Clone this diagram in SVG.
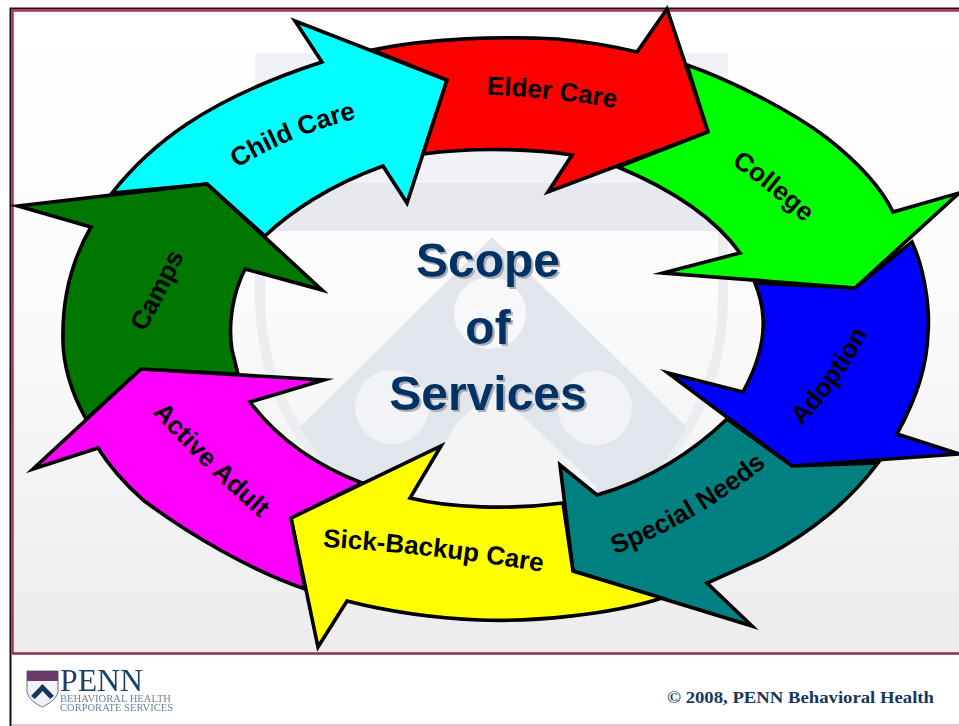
<svg xmlns="http://www.w3.org/2000/svg" width="959" height="726" viewBox="0 0 959 726">
<style>
.a{stroke:#000;stroke-width:3.6;stroke-linejoin:miter;stroke-miterlimit:8}
.l{font:bold 26px "Liberation Sans",Arial,sans-serif;fill:#000;text-anchor:middle}
.t{font:bold 48px "Liberation Sans",Arial,sans-serif;text-anchor:middle;fill:#003366}
.wm{fill:#e2e5eb}
</style>
<defs>
<linearGradient id="bg" x1="0" y1="0" x2="0" y2="1"><stop offset="0" stop-color="#fff"/><stop offset=".45" stop-color="#fbfbfc"/><stop offset="1" stop-color="#ececee"/></linearGradient>
<filter id="sh" x="-10%" y="-10%" width="120%" height="120%"><feDropShadow dx="2" dy="2" stdDeviation="0.6" flood-color="#a9adb6"/></filter>
<filter id="soft" x="-5%" y="-5%" width="110%" height="110%"><feGaussianBlur stdDeviation="0.45"/></filter>
<path id="pChild" d="M220,179 Q289,132 376,114"/>
<path id="pElder" d="M469,94 Q551,96 633,111"/>
<path id="pCollege" d="M715,153 Q770,189 819,236"/>
<path id="pAdopt" d="M791,437 Q841,388 875,320"/>
<path id="pSpecial" d="M596,561 Q697,527 782,452"/>
<path id="pSick" d="M304,546 Q430,552 561,575"/>
<path id="pActive" d="M138,397 Q204,471 276,532"/>
<path id="pCamps" d="M137,345 Q166,298 190,242"/>
</defs>
<rect width="959" height="726" fill="#fff"/>
<rect x="12" y="9" width="947" height="644" fill="url(#bg)"/>
<g id="watermark">
<rect x="255" y="53" width="473" height="131" fill="#f1f2f5"/>
<rect x="255" y="183" width="473" height="48" fill="#e6e8ee"/>
<path d="M260,231 V300 C262,420 340,520 492,572 C645,520 722,420 723,300 V231" fill="none" stroke="#ebedf1" stroke-width="10"/>
<path class="wm" d="M492,237 L687,427 L640,500 C600,530 560,550 492,568 C430,550 385,530 345,495 L300,427 Z"/>
<path d="M492,390 L527,420 L597,487 L560,570 H430 L395,520 L457,423 Z" fill="#f4f4f6"/>
<circle cx="490" cy="313" r="36" fill="#f8f8fa"/>
<circle cx="392" cy="407" r="37" fill="#f2f3f6"/>
<circle cx="595" cy="408" r="37" fill="#f2f3f6"/>
</g>
<g id="frame">
<path d="M959,8.500H10.500V726" fill="none" stroke="#111" stroke-width="2"/>
<path d="M959,10.500H12.500V653" fill="none" stroke="#b03060" stroke-width="2.500"/>
<path d="M12,653.500H959" stroke="#8a2f4e" stroke-width="2.500"/>
<path d="M12,725H959" stroke="#e8a8bc" stroke-width="1.500"/>
</g>
<g id="connectors"></g>
<g id="child-care">
<path class="a" fill="#0ff" d="M112,193 C150,145 205,100 322,62 L295,21 L447,80 L407,203 L383,166 C330,185 290,212 265,236 L207,184 Z"/>
<text class="l"><textPath href="#pChild" startOffset="50%">Child Care</textPath></text>
</g>
<g id="elder-care">
<path class="a" fill="#f00" d="M372,50 C430,38 500,36 557,39 Q600,43 637,52 L667,9 L708,132 L548,192 L572,155 C540,150 480,146 423,154 L447,80 Z"/>
<text class="l"><textPath href="#pElder" startOffset="50%">Elder Care</textPath></text>
</g>
<g id="college">
<path class="a" fill="#0f0" d="M687,65 C730,80 790,110 827,138 C855,160 880,185 893,212 L959,193 L855,288 L663,273 L740,253 C720,225 685,195 618,167 L708,132 Z"/>
<text class="l"><textPath href="#pCollege" startOffset="50%">College</textPath></text>
</g>
<g id="adoption">
<path class="a" fill="#00f" d="M912,242 C925,270 930,310 928,333 C927,365 918,395 897,434 L959,454 L792,466 L668,373 L743,392 C755,370 765,345 763,317 Q762,300 755,283 L855,288 Z"/>
<text class="l"><textPath href="#pAdopt" startOffset="50%">Adoption</textPath></text>
</g>
<g id="special-needs">
<path class="a" fill="#008080" d="M878,463 C850,500 815,530 763,558 L707,583 L752,626 L573,571 L560,465 L597,495 C650,480 695,450 727,419 L792,466 Z"/>
<text class="l"><textPath href="#pSpecial" startOffset="50%">Special Needs</textPath></text>
</g>
<g id="sick-backup-care">
<path class="a" fill="#ff0" d="M441,446 L410,498 C450,508 510,510 563,503 L573,571 L662,598 C610,615 530,622 480,620 C430,618 390,612 347,601 L318,647 L291,518 Z"/>
<text class="l"><textPath href="#pSick" startOffset="50%">Sick-Backup Care</textPath></text>
</g>
<g id="active-adult">
<path class="a" fill="#f0f" d="M362,483 L291,518 L305,589 C250,570 190,535 143,500 Q115,475 98,448 L33,469 L141,369 L324,380 L250,402 C275,435 310,463 362,483 Z"/>
<text class="l"><textPath href="#pActive" startOffset="50%">Active Adult</textPath></text>
</g>
<g id="camps">
<path class="a" fill="#007800" d="M238,374 L141,369 L86,419 C70,390 62,360 63,333 C63,290 75,255 91,227 L18,206 L207,184 L322,290 L245,269 C232,295 228,325 232,350 Z"/>
<text class="l"><textPath href="#pCamps" startOffset="50%">Camps</textPath></text>
</g>
<g id="title" class="t" filter="url(#sh)"><text x="488" y="277">Scope</text><text x="488" y="344">of</text><text x="488" y="410">Services</text></g>
<g id="logo" filter="url(#soft)">
<path d="M27,671 H58 V692 C56,700 48,704 42.500,707 C36,704 29,700 27,692 Z" fill="#f0f2f7" stroke="#5d7398" stroke-width="1"/>
<rect x="27" y="671" width="31" height="10" fill="#6a3a6a"/>
<path d="M31,696 L42.500,684 L54,696 L50,699 L42.500,691 L35,699 Z" fill="#17365f"/>
<text x="60" y="691" font-family="'Liberation Serif',serif" font-size="32" fill="#1d4068" textLength="83" lengthAdjust="spacingAndGlyphs">PENN</text>
<text x="60" y="702" font-family="'Liberation Serif',serif" font-size="9.500" fill="#6f8296" textLength="111" lengthAdjust="spacingAndGlyphs">BEHAVIORAL HEALTH</text>
<text x="60" y="711" font-family="'Liberation Serif',serif" font-size="9.500" fill="#6f8296" textLength="113" lengthAdjust="spacingAndGlyphs">CORPORATE SERVICES</text>
</g>
<text id="copyright" x="667" y="703" font-family="'Liberation Serif',serif" font-weight="bold" font-size="17" fill="#17375e" textLength="267" lengthAdjust="spacingAndGlyphs">© 2008, PENN Behavioral Health</text>
</svg>
